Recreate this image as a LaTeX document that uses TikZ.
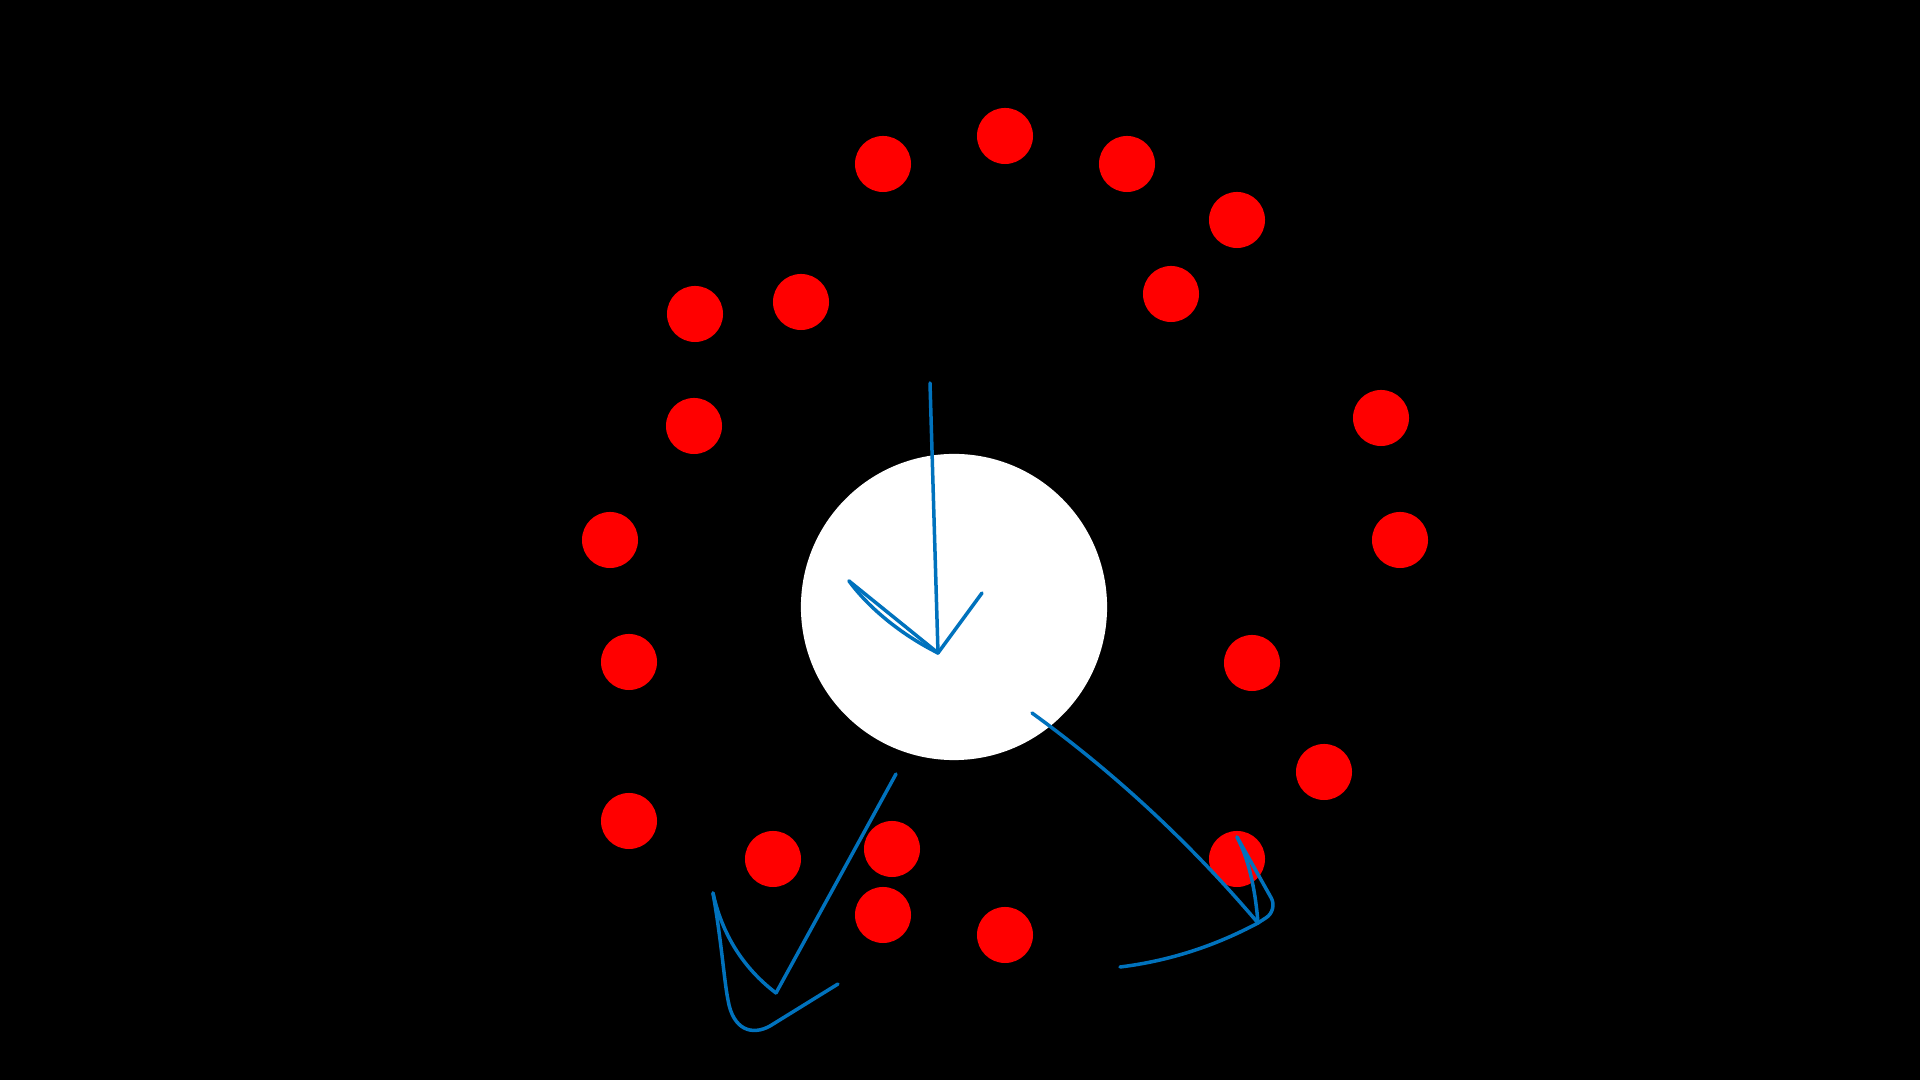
\documentclass[tikz,border=0pt]{standalone}
\usepackage{tikz}
\definecolor{stroke}{RGB}{0,114,189}
\tikzset{
  dot/.style={circle, fill=red, draw=none, inner sep=0pt, minimum size=0.56cm},
  disc/.style={circle, fill=white, draw=none, inner sep=0pt, minimum size=3.06cm},
  pen/.style={draw=stroke, line width=0.035cm, line cap=round, line join=round}
}
\begin{document}
\begin{tikzpicture}[x=0.01cm, y=-0.01cm]
\fill[black] (0,0) rectangle (1920,1080);
\useasboundingbox (0,0) rectangle (1920,1080);
% white disc
\node[disc] (c) at (954,607) {};
% red dots
\node[dot] (d1) at (883,164) {};
\node[dot] (d2) at (1005,136) {};
\node[dot] (d3) at (1127,164) {};
\node[dot] (d4) at (1237,220) {};
\node[dot] (d5) at (1171,294) {};
\node[dot] (d6) at (801,302) {};
\node[dot] (d7) at (695,314) {};
\node[dot] (d8) at (694,426) {};
\node[dot] (d9) at (610,540) {};
\node[dot] (d10) at (629,662) {};
\node[dot] (d11) at (629,821) {};
\node[dot] (d12) at (773,859) {};
\node[dot] (d13) at (892,849) {};
\node[dot] (d14) at (883,915) {};
\node[dot] (d15) at (1005,935) {};
\node[dot] (d16) at (1237,859) {};
\node[dot] (d17) at (1324,772) {};
\node[dot] (d18) at (1252,663) {};
\node[dot] (d19) at (1400,540) {};
\node[dot] (d20) at (1381,418) {};
% blue strokes: first
\coordinate (a0) at (930,383);
\coordinate (a1) at (938,653);
\coordinate (a2) at (849,581);
\coordinate (a3) at (982,593);
\path[pen] (a0) -- (a1);
\path[pen] (a2) -- (a1);
\path[pen] (a2) .. controls (868,607) and (900,634) .. (a1);
\path[pen] (a1) -- (a3);
% second
\coordinate (b0) at (1032,713);
\coordinate (b1) at (1258,923);
\coordinate (b2) at (1237,837);
\coordinate (b3) at (1278,910);
\coordinate (b4) at (1120,967);
\path[pen] (b0) .. controls (1116,774) and (1191,844) .. (b1);
\path[pen] (b2) .. controls (1248,858) and (1255,886) .. (b1);
\path[pen, rounded corners=4] (b2) -- (b3) -- (b1);
\path[pen] (b1) .. controls (1215,946) and (1169,961) .. (b4);
% third
\coordinate (e0) at (896,774);
\coordinate (e1) at (776,993);
\coordinate (e2) at (713,893);
\coordinate (e3) at (838,984);
\path[pen] (e0) -- (e1);
\path[pen] (e1) .. controls (743,968) and (722,934) .. (e2);
\path[pen] (e2) .. controls (722,945) and (724,980) .. (728,1000)
  .. controls (733,1030) and (752,1036) .. (770,1026) -- (e3);
\end{tikzpicture}
\end{document}
